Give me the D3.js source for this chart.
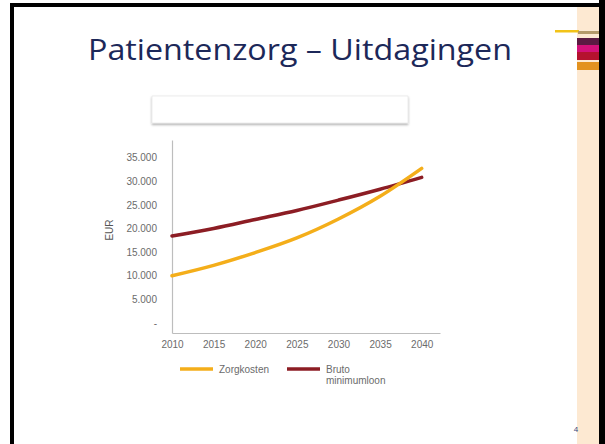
<!DOCTYPE html>
<html>
<head>
<meta charset="utf-8">
<script src="https://cdn.jsdelivr.net/npm/d3@7"></script>
<style>
  body { margin: 0; background: #fff; }
  svg { display: block; }
  .tick text { font-family: "Liberation Sans", Arial, sans-serif; font-size: 10px; fill: #6b6b6b; }
  .legend text { font-family: "Liberation Sans", Arial, sans-serif; font-size: 10px; fill: #6b6b6b; }
</style>
</head>
<body>
<script>
// chart data
const years = [2010, 2015, 2020, 2025, 2030, 2035, 2040];
const zorgkosten = [10000, 12200, 14900, 18000, 22000, 26800, 32700];
const minimumloon = [18400, 20000, 21900, 23800, 26000, 28300, 30800];
const yTicks = [0, 5000, 10000, 15000, 20000, 25000, 30000, 35000];
const seriesNames = ["Zorgkosten", "Bruto minimumloon"];
const seriesColors = ["#f4ae1a", "#8c1d24"];

const W = 605, H = 444;

const svg = d3.select("body").append("svg")
  .attr("width", W)
  .attr("height", H);

// slide frame
svg.append("rect").attr("x", 0).attr("y", 0).attr("width", W).attr("height", H).attr("fill", "#fff");
svg.append("rect").attr("x", 10).attr("y", 3).attr("width", 595).attr("height", 4).attr("fill", "#000");
svg.append("rect").attr("x", 10).attr("y", 3).attr("width", 4).attr("height", H).attr("fill", "#000");
svg.append("rect").attr("x", 577).attr("y", 7).attr("width", 22).attr("height", H).attr("fill", "#fde9d2");
svg.append("rect").attr("x", 599).attr("y", 0).attr("width", 6).attr("height", H).attr("fill", "#000");

// decorative bars on the right
svg.append("rect").attr("x", 555).attr("y", 30).attr("width", 24).attr("height", 2.5).attr("fill", "#f2c318");
svg.append("rect").attr("x", 578).attr("y", 31).attr("width", 21).attr("height", 3).attr("fill", "#b49a6a");
const deco = [
  { y: 38, h: 7, c: "#5b1a42" },
  { y: 45, h: 7, c: "#d3117a" },
  { y: 52, h: 8, c: "#b5122f" },
  { y: 62, h: 8, c: "#e3921f" }
];
svg.selectAll(".deco").data(deco).join("rect")
  .attr("class", "deco")
  .attr("x", 577).attr("y", d => d.y)
  .attr("width", 22).attr("height", d => d.h)
  .attr("fill", d => d.c);

// title
svg.append("text")
  .attr("x", 300).attr("y", 60)
  .attr("text-anchor", "middle")
  .attr("font-family", "'Open Sans', 'Noto Sans', sans-serif")
  .attr("font-size", 30)
  .attr("fill", "#1c2859")
  .attr("textLength", 424)
  .attr("lengthAdjust", "spacingAndGlyphs")
  .text("Patientenzorg – Uitdagingen");

svg.append("text")
  .attr("x", 576).attr("y", 432)
  .attr("text-anchor", "middle")
  .attr("font-family", "'Liberation Sans', Arial, sans-serif")
  .attr("font-size", 8)
  .attr("fill", "#3a4a80")
  .text("4");

// empty white box with shadow
const defs = svg.append("defs");
const f = defs.append("filter").attr("id", "shadow").attr("x", "-5%").attr("y", "-20%").attr("width", "110%").attr("height", "160%");
f.append("feDropShadow").attr("dx", 0).attr("dy", 1.5).attr("stdDeviation", 1).attr("flood-color", "#000").attr("flood-opacity", 0.35);
svg.append("rect")
  .attr("x", 152).attr("y", 96).attr("width", 256).attr("height", 27)
  .attr("fill", "#fff").attr("stroke", "#e2e2e2").attr("stroke-width", 0.6)
  .attr("filter", "url(#shadow)");

// chart
const x = d3.scaleLinear().domain([2010, 2042.2]).range([172, 440]);
const y = d3.scaleLinear().domain([-2100, 38700]).range([333, 140]);

const fmt = d3.formatLocale({ decimal: ",", thousands: ".", grouping: [3], currency: ["€", ""] }).format(",.0f");

const gy = svg.append("g")
  .attr("transform", "translate(172,0)")
  .call(d3.axisLeft(y).tickValues(yTicks).tickSize(0).tickPadding(15)
    .tickFormat(d => d === 0 ? "-" : fmt(d)));
gy.select(".domain").attr("stroke", "#bdbdbd").attr("stroke-width", 1.2);

const gx = svg.append("g")
  .attr("transform", "translate(0,333)")
  .call(d3.axisBottom(x).tickValues(years).tickSize(0).tickPadding(8)
    .tickFormat(d3.format("d")));
gx.select(".domain").attr("stroke", "#bdbdbd").attr("stroke-width", 1.2);

svg.append("text")
  .attr("transform", "translate(113,230) rotate(-90)")
  .attr("text-anchor", "middle")
  .attr("font-family", "'Liberation Sans', Arial, sans-serif")
  .attr("font-size", 10)
  .attr("fill", "#555")
  .text("EUR");

const line = d3.line()
  .x((d, i) => x(years[i]))
  .y(d => y(d))
  .curve(d3.curveMonotoneX);

[minimumloon, zorgkosten].forEach((s, k) => {
  svg.append("path")
    .datum(s)
    .attr("fill", "none")
    .attr("stroke", seriesColors[1 - k])
    .attr("stroke-width", 3.5)
    .attr("stroke-linecap", "round")
    .attr("d", line);
});

// legend
const leg = svg.append("g").attr("class", "legend");
const legX = [180, 287];
seriesNames.forEach((name, i) => {
  leg.append("line")
    .attr("x1", legX[i]).attr("x2", legX[i] + 33)
    .attr("y1", 369).attr("y2", 369)
    .attr("stroke", seriesColors[i]).attr("stroke-width", 3.5);
  const t = leg.append("text").attr("x", legX[i] + 39).attr("y", 373);
  const words = i === 1 ? ["Bruto", "minimumloon"] : [name];
  words.forEach((w, j) => {
    t.append("tspan").attr("x", legX[i] + 39).attr("dy", j === 0 ? 0 : 11).text(w);
  });
});
</script>
</body>
</html>
